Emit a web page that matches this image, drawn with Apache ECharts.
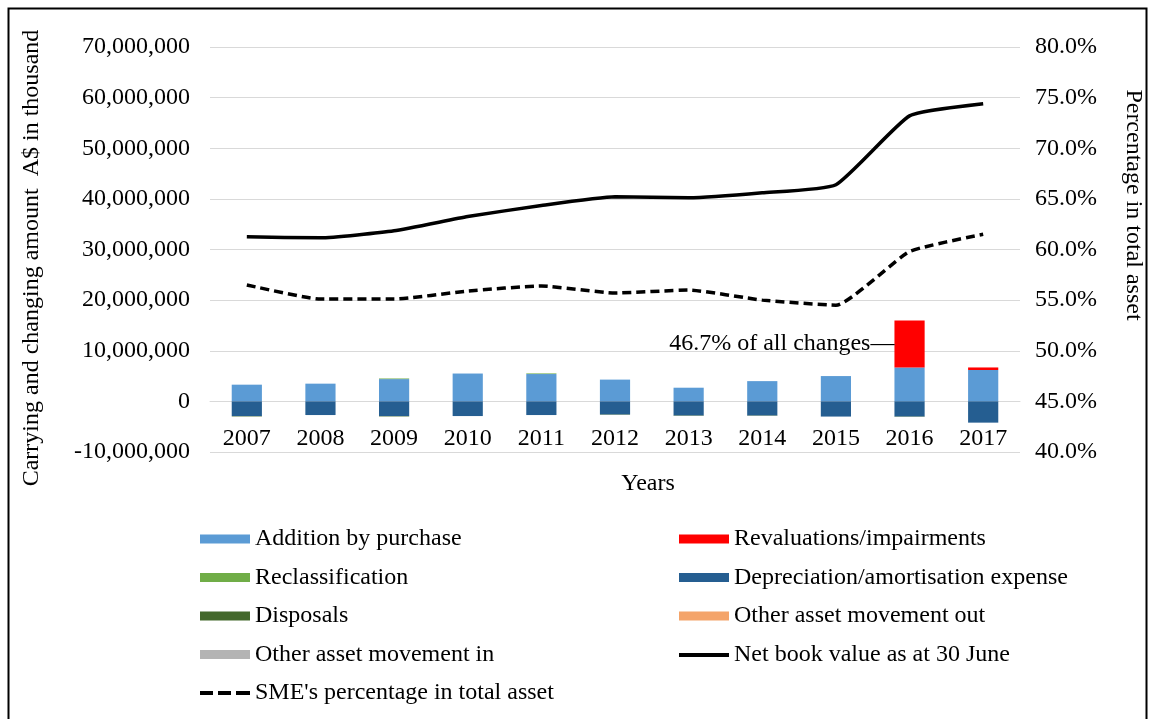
<!DOCTYPE html>
<html>
<head>
<meta charset="utf-8">
<script src="https://cdn.jsdelivr.net/npm/echarts@6/dist/echarts.min.js"></script>
<style>
  html, body { margin: 0; padding: 0; background: #fff; }
  #chart { width: 1150px; height: 719px; }
</style>
</head>
<body>
<div id="chart"></div>
<script>
// Asset movements (A$ thousand) and SME share, 2007–2017
const years = ['2007','2008','2009','2010','2011','2012','2013','2014','2015','2016','2017'];
const additionByPurchase = [3300000, 3500000, 4400000, 5500000, 5400000, 4300000, 2700000, 4000000, 5000000, 6700000, 6200000];
const revaluations       = [0, 0, 0, 0, 0, 0, 0, 0, 0, 9300000, 500000];
const reclassification   = [0, 0, 120000, 0, 120000, 0, 0, 0, 0, 0, 0];
const depreciation       = [-2900000, -2700000, -2900000, -2900000, -2700000, -2600000, -2800000, -2800000, -3000000, -3000000, -4200000];
const disposals          = [-80000, 0, -80000, 0, 0, -60000, -60000, -50000, 0, -50000, 0];
const otherMovementOut   = [0, 0, 0, 0, 0, 0, 0, 0, 0, 0, 0];
const otherMovementIn    = [0, 0, 0, 0, 0, 0, 0, 0, 0, 0, 0];
const netBookValue       = [32500000, 32300000, 33700000, 36500000, 38700000, 40400000, 40200000, 41200000, 42800000, 56400000, 58800000];
const smePercentage      = [56.5, 55.1, 55.1, 55.9, 56.4, 55.7, 56.0, 55.0, 54.5, 59.8, 61.5];
const revaluationNote    = '46.7% of all changes';
const noteYear           = '2016';

const FONT = '"Liberation Serif", "Times New Roman", serif';
const FS = 24;

const chart = echarts.init(document.getElementById('chart'), null, { renderer: 'canvas' });

function barSeries(name, data, color) {
  return {
    name, type: 'bar', stack: 'changes', data,
    barWidth: '41%',
    itemStyle: { color },
    emphasis: { disabled: true }
  };
}

const revalSeries = barSeries('Revaluations/impairments', revaluations.map((v, i) => {
  if (years[i] === noteYear) {
    return {
      value: v,
      label: {
        show: true, position: 'left', distance: 0,
        formatter: revaluationNote + '—',
        color: '#000', fontFamily: FONT, fontSize: FS
      }
    };
  }
  return v;
}), '#FF0000');

const legendText = { fontFamily: FONT, fontSize: FS, color: '#000', lineHeight: 24 };
const SOLID_ICON = 'path://M0,0h50v4h-50z';
const DASH_ICON = 'path://M0,0h13v4h-13z M18,0h13v4h-13z M36,0h14v4h-14z';

function barLegend(left, data) {
  return {
    orient: 'vertical', left, top: 522,
    icon: 'rect', itemWidth: 50, itemHeight: 9, itemGap: 14.5,
    textStyle: legendText, selectedMode: false, data
  };
}
function lineLegend(left, top, name, icon) {
  return {
    orient: 'vertical', left, top,
    icon, itemWidth: 50, itemHeight: 4,
    textStyle: legendText, selectedMode: false,
    data: [{ name, itemStyle: { color: '#000' } }]
  };
}

const option = {
  animation: false,
  backgroundColor: '#fff',
  textStyle: { fontFamily: FONT, color: '#000' },
  grid: { left: 210, right: 130, top: 47, bottom: 267 },
  xAxis: {
    type: 'category',
    data: years,
    position: 'bottom',
    offset: 0,
    axisLine: { lineStyle: { color: '#d9d9d9' } },
    axisTick: { show: false },
    axisLabel: { fontFamily: FONT, fontSize: FS, color: '#000', margin: 25 }
  },
  yAxis: [
    {
      type: 'value', min: -10000000, max: 70000000, interval: 10000000,
      axisLine: { show: false }, axisTick: { show: false },
      axisLabel: {
        fontFamily: FONT, fontSize: FS, color: '#000', margin: 20,
        formatter: v => v.toLocaleString('en-US')
      },
      splitLine: { lineStyle: { color: '#d9d9d9', width: 1 } }
    },
    {
      type: 'value', min: 40, max: 80, interval: 5,
      axisLine: { show: false }, axisTick: { show: false },
      axisLabel: {
        fontFamily: FONT, fontSize: FS, color: '#000', margin: 15,
        formatter: v => v.toFixed(1) + '%'
      },
      splitLine: { show: false }
    }
  ],
  legend: [
    barLegend(195, ['Addition by purchase', 'Reclassification', 'Disposals', 'Other asset movement in']),
    barLegend(674, ['Revaluations/impairments', 'Depreciation/amortisation expense', 'Other asset movement out']),
    lineLegend(674, 638, 'Net book value as at 30 June', SOLID_ICON),
    lineLegend(195, 676, "SME's percentage in total asset", DASH_ICON)
  ],
  graphic: [
    {
      type: 'rect', silent: true, z: -1,
      shape: { x: 8.5, y: 8.5, width: 1138, height: 730 },
      style: { fill: 'none', stroke: '#000', lineWidth: 2 }
    },
    {
      type: 'text', silent: true,
      x: 32, y: 258, rotation: Math.PI / 2,
      style: {
        text: 'Carrying and changing amount  A$ in thousand',
        font: FS + 'px ' + FONT, fill: '#000',
        align: 'center', verticalAlign: 'middle'
      }
    },
    {
      type: 'text', silent: true,
      x: 1133, y: 205, rotation: -Math.PI / 2,
      style: {
        text: 'Percentage in total asset',
        font: FS + 'px ' + FONT, fill: '#000',
        align: 'center', verticalAlign: 'middle'
      }
    },
    {
      type: 'text', silent: true,
      x: 648, y: 484,
      style: {
        text: 'Years',
        font: FS + 'px ' + FONT, fill: '#000',
        align: 'center', verticalAlign: 'middle'
      }
    }
  ],
  series: [
    barSeries('Addition by purchase', additionByPurchase, '#5B9BD5'),
    barSeries('Reclassification', reclassification, '#70AD47'),
    revalSeries,
    barSeries('Depreciation/amortisation expense', depreciation, '#255E91'),
    barSeries('Disposals', disposals, '#43682B'),
    barSeries('Other asset movement out', otherMovementOut, '#F4A46A'),
    barSeries('Other asset movement in', otherMovementIn, '#B4B4B4'),
    {
      name: 'Net book value as at 30 June', type: 'line', yAxisIndex: 0,
      data: netBookValue, smooth: 0.15, symbol: 'none',
      lineStyle: { color: '#000', width: 3.5 }, itemStyle: { color: '#000' },
      emphasis: { disabled: true }
    },
    {
      name: "SME's percentage in total asset", type: 'line', yAxisIndex: 1,
      data: smePercentage, smooth: 0.15, symbol: 'none',
      lineStyle: { color: '#000', width: 3.5, type: [9, 5] }, itemStyle: { color: '#000' },
      emphasis: { disabled: true }
    }
  ]
};

chart.setOption(option);

// Move the category axis (labels included) up to the zero line of the left value axis.
const yZero = chart.convertToPixel({ yAxisIndex: 0 }, 0);
const yBottom = chart.convertToPixel({ yAxisIndex: 0 }, -10000000);
chart.setOption({ xAxis: { offset: yZero - yBottom } });
</script>
</body>
</html>
